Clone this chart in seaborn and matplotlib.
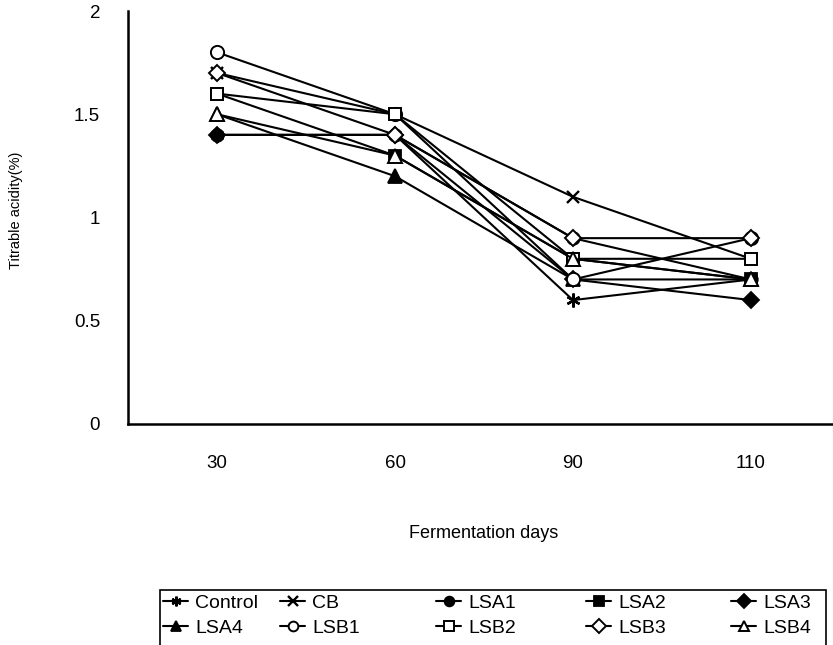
import matplotlib
matplotlib.use("Agg")
import matplotlib.pyplot as plt
from matplotlib.patches import Rectangle
import seaborn as sns
import pandas as pd

days = ["30", "60", "90", "110"]
series_names = ["Control", "CB", "LSA1", "LSA2", "LSA3", "LSA4", "LSB1", "LSB2", "LSB3", "LSB4"]
control = [1.4, 1.4, 0.6, 0.7]
cb = [1.7, 1.5, 1.1, 0.8]
lsa1 = [1.4, 1.4, 0.9, 0.7]
lsa2 = [1.6, 1.3, 0.8, 0.7]
lsa3 = [1.4, 1.4, 0.7, 0.6]
lsa4 = [1.5, 1.2, 0.7, 0.7]
lsb1 = [1.8, 1.5, 0.7, 0.9]
lsb2 = [1.6, 1.5, 0.8, 0.8]
lsb3 = [1.7, 1.4, 0.9, 0.9]
lsb4 = [1.5, 1.3, 0.8, 0.7]
y_ticks = [0, 0.5, 1, 1.5, 2]
y_tick_labels = ["0", "0.5", "1", "1.5", "2"]

values = [control, cb, lsa1, lsa2, lsa3, lsa4, lsb1, lsb2, lsb3, lsb4]

sns.set_style("white")
plt.rcParams["font.family"] = ["Liberation Sans", "DejaVu Sans"]
plt.rcParams["text.color"] = "black"
plt.rcParams["axes.labelcolor"] = "black"
plt.rcParams["xtick.color"] = "black"
plt.rcParams["ytick.color"] = "black"

styles = {
    "Control": dict(marker=(6, 2, 0), mfc="black", ms=10, mew=1.7),
    "CB": dict(marker="x", mfc="black", ms=9, mew=1.7),
    "LSA1": dict(marker="o", mfc="black", ms=9, mew=1.3),
    "LSA2": dict(marker="s", mfc="black", ms=9, mew=1.3),
    "LSA3": dict(marker="D", mfc="black", ms=8, mew=1.3),
    "LSA4": dict(marker="^", mfc="black", ms=9.5, mew=1.3),
    "LSB1": dict(marker="o", mfc="white", ms=9.5, mew=1.4),
    "LSB2": dict(marker="s", mfc="white", ms=9, mew=1.4),
    "LSB3": dict(marker="D", mfc="white", ms=8, mew=1.4),
    "LSB4": dict(marker="^", mfc="white", ms=9.5, mew=1.4),
}

rows = []
for name, vals in zip(series_names, values):
    for d, v in zip(days, vals):
        rows.append({"day": d, "value": v, "series": name})
df = pd.DataFrame(rows)

fig = plt.figure(figsize=(8.33, 6.45), dpi=100)
ax = fig.add_axes([128 / 833, 221 / 645, 712 / 833, 413 / 645])

for name in series_names:
    st = styles[name]
    sub = df[df["series"] == name]
    sns.lineplot(data=sub, x="day", y="value", ax=ax, color="black",
                 linewidth=1.5, marker=st["marker"], markersize=st["ms"],
                 markerfacecolor=st["mfc"], markeredgecolor="black",
                 markeredgewidth=st["mew"], label=name, sort=False,
                 errorbar=None)

ax.set_xlim(-0.5, 3.5)
ax.set_ylim(0, 2)
ax.set_xticks(range(len(days)))
ax.set_xticklabels(days, fontsize=13.5)
ax.set_xticks([0.5, 1.5, 2.5], minor=True)
ax.tick_params(axis="x", which="major", length=0, pad=22)
ax.tick_params(axis="x", which="minor", direction="in", length=5, width=1.5, color="black")
ax.set_yticks(y_ticks)
ax.set_yticklabels(y_tick_labels, fontsize=13.5)
ax.tick_params(axis="y", which="major", direction="in", length=5, width=1.5, pad=20, color="black")

for s in ["top", "right"]:
    ax.spines[s].set_visible(False)
for s in ["left", "bottom"]:
    ax.spines[s].set_color("black")
    ax.spines[s].set_linewidth(1.8)

ax.set_xlabel("Fermentation days", fontsize=13)
ax.set_ylabel("Titrable acidity(%)", fontsize=10.5)
ax.xaxis.set_label_coords(0.5, -0.245)
ax.yaxis.set_label_coords(-0.147, 0.518)

handles, labels = ax.get_legend_handles_labels()
if ax.legend_:
    ax.legend_.remove()
hmap = dict(zip(labels, handles))

columns = [["Control", "LSA4"], ["CB", "LSB1"], ["LSA1", "LSB2"],
           ["LSA2", "LSB3"], ["LSA3", "LSB4"]]
col_x = [163, 280, 436, 586, 731]
for cx, col in zip(col_x, columns):
    leg = fig.legend([hmap[k] for k in col], col, loc="upper left",
                     bbox_to_anchor=(cx / 833, 1 - 594 / 645),
                     frameon=False, fontsize=14, handlelength=1.3,
                     handletextpad=0.35, labelspacing=0.38, borderpad=0,
                     borderaxespad=0)
    for h in leg.legend_handles:
        h.set_markersize(7)

fig.patches.append(Rectangle((160 / 833, -0.02), (826 - 160) / 833, 1 - 590 / 645 + 0.02,
                             transform=fig.transFigure, fill=False,
                             edgecolor="black", linewidth=1.2))

fig.savefig("out.png", dpi=100)
